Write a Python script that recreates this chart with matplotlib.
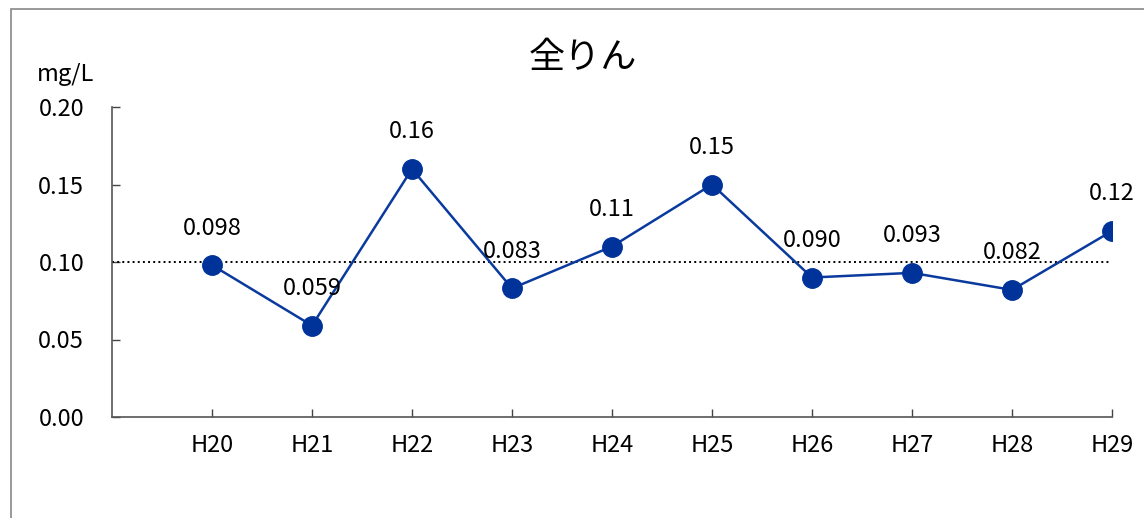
import matplotlib
matplotlib.use('Agg')
import matplotlib.pyplot as plt
from matplotlib.patches import Rectangle

plt.rcParams['font.family'] = ['Noto Sans CJK JP', 'DejaVu Sans']

# data
years = ['H20', 'H21', 'H22', 'H23', 'H24', 'H25', 'H26', 'H27', 'H28', 'H29']
values = [0.098, 0.059, 0.16, 0.083, 0.11, 0.15, 0.090, 0.093, 0.082, 0.12]
labels = ['0.098', '0.059', '0.16', '0.083', '0.11', '0.15', '0.090', '0.093', '0.082', '0.12']
ref_level = 0.10
yticks = [0.00, 0.05, 0.10, 0.15, 0.20]

fig = plt.figure(figsize=(11.44, 5.18), dpi=100)
ax = fig.add_axes([112 / 1144, 1 - 417 / 518, 1000 / 1144, 310 / 518])

# outer frame (clipped at right and bottom like the source)
fig.patches.append(Rectangle((11 / 1144, -0.1), 1.2, 1 - 9 / 518 + 0.1,
                             transform=fig.transFigure, fill=False,
                             edgecolor='#888888', linewidth=1.2))

xs = list(range(1, len(years) + 1))
ax.plot([0, 9.98], [ref_level, ref_level], color='black', linestyle=':', linewidth=1.4)
ax.plot(xs, values, color='#0a3a9e', linewidth=1.8, marker='o',
        markersize=14, markerfacecolor='#003399', markeredgecolor='#003399', zorder=3)

for x, v, s in zip(xs, values, labels):
    ax.annotate(s, (x, v), xytext=(0, 37), textcoords='offset pixels',
                ha='center', va='center', fontsize=17, color='black')

ax.set_xlim(0, 10)
ax.set_ylim(0, 0.2)
ax.set_xticks(xs)
ax.set_xticklabels(years, fontsize=17)
ax.set_yticks(yticks)
ax.set_yticklabels(['%.2f' % t for t in yticks], fontsize=17)
ax.tick_params(axis='both', direction='in', length=6, width=1, color='#444444')
ax.tick_params(axis='y', pad=20)
ax.tick_params(axis='x', pad=12)
for side in ['top', 'right']:
    ax.spines[side].set_visible(False)
for side in ['left', 'bottom']:
    ax.spines[side].set_color('#555555')
    ax.spines[side].set_linewidth(1.2)

fig.text(583 / 1144, 1 - 58 / 518, '全りん', ha='center', va='center', fontsize=26)
fig.text(37 / 1144, 1 - 75 / 518, 'mg/L', ha='left', va='center', fontsize=17)

fig.savefig('out.png', dpi=100)
